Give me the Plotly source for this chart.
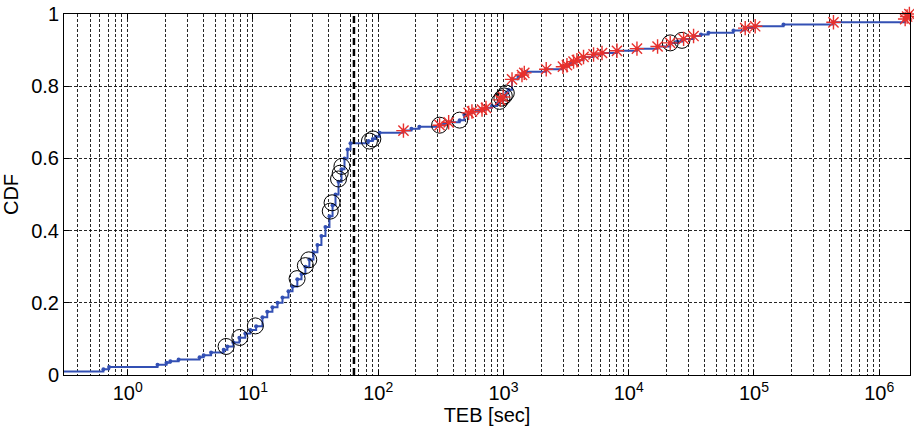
import numpy as np
import plotly.graph_objects as go

# Empirical CDF of TEB (time between events), stair-step points
teb_sec = [0.2, 0.64, 0.71, 1.73, 2.04, 2.19, 2.55, 3.75, 4.04, 4.63,
           5.84, 6.25, 6.98, 7.79, 8.69, 9.53, 10.6, 11.9, 13.0, 14.3,
           15.7, 17.2, 19.2, 20.7, 22.6, 24.4, 26.2, 28.2, 30.4, 32.7,
           35.2, 37.9, 40.8, 43.2, 45.6, 48.2, 50.9, 53.8, 56.9, 60.1,
           83.5, 90.5, 96.0, 102.5, 159, 184, 213, 309, 335, 365,
           447, 487, 527, 560, 628, 674, 725, 810, 890, 931,
           972, 1015, 1053, 1095, 1170, 1315, 1405, 1466, 1520, 2194,
           2984, 3211, 3440, 3626, 3860, 4356, 5237, 6118, 8053, 11630,
           16990, 21440, 24300, 26600, 27410, 32930, 37720, 43340, 68600, 85100,
           102200, 172000, 431000, 1.61e6, 1.66e6, 1.72e6]
cdf = [0.010, 0.016, 0.022, 0.0285, 0.034, 0.038, 0.043, 0.049, 0.055, 0.062,
       0.070, 0.079, 0.090, 0.103, 0.115, 0.125, 0.135, 0.160, 0.175, 0.188,
       0.200, 0.215, 0.232, 0.245, 0.265, 0.280, 0.300, 0.320, 0.340, 0.360,
       0.385, 0.410, 0.440, 0.470, 0.500, 0.535, 0.570, 0.600, 0.625, 0.642,
       0.648, 0.654, 0.660, 0.671, 0.677, 0.682, 0.688, 0.692, 0.696, 0.700,
       0.706, 0.721, 0.726, 0.730, 0.733, 0.735, 0.740, 0.745, 0.752, 0.758,
       0.767, 0.773, 0.781, 0.790, 0.819, 0.826, 0.831, 0.837, 0.840, 0.847,
       0.854, 0.858, 0.863, 0.868, 0.872, 0.881, 0.888, 0.892, 0.898, 0.904,
       0.910, 0.920, 0.924, 0.927, 0.931, 0.939, 0.943, 0.948, 0.954, 0.961,
       0.966, 0.971, 0.977, 0.986, 0.993, 1.000]

# Highlighted samples (circles)
circle_teb = [6.1, 7.85, 10.45, 22.5, 26.2, 27.9, 41.4, 42.8, 48.2, 49.7,
              51.3, 85.1, 90.6, 309, 447, 931, 972, 1015, 1053, 21440, 26600]
circle_cdf = [0.079, 0.104, 0.136, 0.267, 0.303, 0.319, 0.454, 0.477, 0.543, 0.559,
              0.578, 0.648, 0.654, 0.692, 0.706, 0.758, 0.767, 0.773, 0.781, 0.920, 0.927]

# Flagged samples (asterisks)
star_teb = [159, 309, 365, 527, 560, 674, 725, 942, 993, 1170,
            1405, 1466, 2194, 2984, 3211, 3626, 3860, 4356, 5237, 6118,
            8053, 11630, 16990, 21440, 27410, 32930, 85100, 102200, 431000, 1.61e6,
            1.67e6, 1.74e6]
star_cdf = [0.677, 0.692, 0.700, 0.726, 0.730, 0.735, 0.740, 0.762, 0.770, 0.819,
            0.831, 0.837, 0.847, 0.854, 0.858, 0.868, 0.872, 0.881, 0.888, 0.892,
            0.898, 0.904, 0.910, 0.920, 0.931, 0.939, 0.961, 0.966, 0.977, 0.986,
            0.993, 1.000]

threshold_sec = 64

x_range = [0.31, 1.76e6]
major_ticks = [10.0 ** k for k in range(0, 7)]
major_text = [f"10<sup>{k}</sup>" for k in range(0, 7)]
minor_ticks = [m * 10.0 ** k for k in range(-1, 7) for m in range(2, 10)]

FONT = "Liberation Sans, Arial, Helvetica, sans-serif"
FONT_SIZE = 20
GRID = dict(gridcolor="rgba(0,0,0,0.85)", gridwidth=1, griddash="3px,2px")

fig = go.Figure()

fig.add_trace(go.Scatter(
    x=teb_sec, y=cdf, mode="lines+markers", line_shape="hv",
    line=dict(color="#3350b4", width=2),
    marker=dict(color="#3350b4", size=4),
    showlegend=False, hoverinfo="skip"))

fig.add_trace(go.Scatter(
    x=[threshold_sec, threshold_sec], y=[0, 1], mode="lines",
    line=dict(color="black", width=2.5, dash="7px,4px"),
    showlegend=False, hoverinfo="skip"))

fig.add_trace(go.Scatter(
    x=circle_teb, y=circle_cdf, mode="markers",
    marker=dict(symbol="circle-open", size=16, color="black",
                line=dict(color="black", width=1)),
    showlegend=False, cliponaxis=False))

fig.add_trace(go.Scatter(
    x=star_teb, y=star_cdf, mode="markers",
    marker=dict(symbol="asterisk-open", size=12, color="#e8302c",
                line=dict(color="#e8302c", width=1.4)),
    showlegend=False, cliponaxis=False))

fig.update_layout(
    width=914, height=434,
    margin=dict(l=64, r=3, t=10, b=59),
    paper_bgcolor="white", plot_bgcolor="white",
    font=dict(family=FONT, size=FONT_SIZE, color="black"),
)

fig.update_xaxes(
    type="log", range=[np.log10(x_range[0]), np.log10(x_range[1])],
    tickmode="array", tickvals=major_ticks, ticktext=major_text,
    ticks="inside", ticklen=5, tickcolor="black",
    tickfont=dict(size=FONT_SIZE), ticklabeloverflow="allow",
    showline=True, linecolor="black", linewidth=1, mirror="ticks",
    showgrid=True, **GRID,
    minor=dict(tickmode="array", tickvals=minor_ticks, showgrid=True,
               ticks="", **GRID),
    zeroline=False,
    title=dict(text="TEB [sec]", standoff=0, font=dict(size=FONT_SIZE)),
)

fig.update_yaxes(
    range=[0, 1], tickmode="linear", tick0=0, dtick=0.2,
    ticks="inside", ticklen=5, tickcolor="black",
    tickfont=dict(size=FONT_SIZE), ticklabeloverflow="allow",
    showline=True, linecolor="black", linewidth=1, mirror="ticks",
    showgrid=True, **GRID, zeroline=False,
    title=dict(text="CDF", standoff=8, font=dict(size=FONT_SIZE)),
)

fig.write_html("out.html")
